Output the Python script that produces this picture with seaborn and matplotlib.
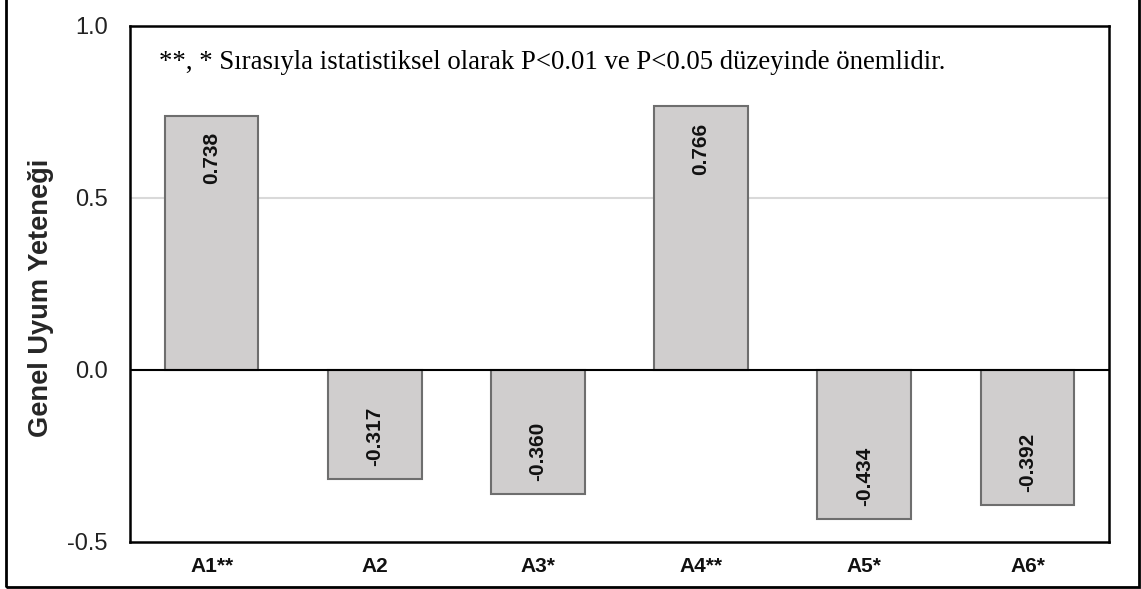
import matplotlib
matplotlib.use("Agg")
import matplotlib.pyplot as plt
import seaborn as sns
import pandas as pd
from matplotlib.patches import Rectangle

# Genel uyum yeteneği değerleri
categories = ["A1**", "A2", "A3*", "A4**", "A5*", "A6*"]
values = [0.738, -0.317, -0.360, 0.766, -0.434, -0.392]
value_labels = ["0.738", "-0.317", "-0.360", "0.766", "-0.434", "-0.392"]
y_ticks = [-0.5, 0.0, 0.5, 1.0]
y_tick_labels = ["-0.5", "0.0", "0.5", "1.0"]
note = "**, * Sırasıyla istatistiksel olarak P<0.01 ve P<0.05 düzeyinde önemlidir."

sns.set_theme(style="white")
plt.rcParams["font.family"] = ["Liberation Sans", "DejaVu Sans"]

df = pd.DataFrame({"hat": categories, "deger": values})

fig = plt.figure(figsize=(11.41, 5.89), dpi=100)
ax = fig.add_axes([0.1139, 0.0798, 0.972 - 0.1139, 0.9559 - 0.0798])

sns.barplot(data=df, x="hat", y="deger", order=categories, color="#D0CECE",
            saturation=1, width=0.575, edgecolor="#6E6E6E", linewidth=1.5,
            ax=ax, zorder=3)

ax.set_ylim(-0.5, 1.0)
ax.set_xlim(-0.5, len(categories) - 0.5)
ax.set_yticks(y_ticks)
ax.set_yticklabels(y_tick_labels, fontsize=17, color="#222222")
ax.set_xticks(range(len(categories)))
ax.set_xticklabels(categories, fontsize=15, fontweight="bold", color="#111111")
ax.tick_params(axis="x", length=0, pad=11)
ax.tick_params(axis="y", length=0, pad=16)

ax.set_xlabel("")
ax.set_ylabel("Genel Uyum Yeteneği", fontsize=19.6, fontweight="bold")
ax.yaxis.set_label_coords(-0.078, 0.473)

# yatay kılavuz çizgisi ve sıfır çizgisi
ax.axhline(0.5, color="#D9D9D9", linewidth=1.5, zorder=1)
ax.axhline(0.0, color="black", linewidth=1.5, zorder=4)

for spine in ax.spines.values():
    spine.set_visible(True)
    spine.set_color("black")
    spine.set_linewidth(1.8)

# çubukların içindeki değer etiketleri
for i, (v, lab) in enumerate(zip(values, value_labels)):
    if v >= 0:
        ax.annotate(lab, xy=(i, v), xytext=(0, -11.5), textcoords="offset points",
                    rotation=90, ha="center", va="top", fontsize=15,
                    fontweight="bold", color="#111111", zorder=5)
    else:
        ax.annotate(lab, xy=(i, v), xytext=(0, 9.5), textcoords="offset points",
                    rotation=90, ha="center", va="bottom", fontsize=15,
                    fontweight="bold", color="#111111", zorder=5)

ax.text(0.03, 0.93, note, transform=ax.transAxes, ha="left", va="center",
        fontsize=19.3, family=["Liberation Serif", "DejaVu Serif"], color="black")

# dış çerçeve
fig.patches.append(Rectangle((6 / 1141, 2 / 589), 1133 / 1141, 1.0,
                             transform=fig.transFigure, fill=False,
                             edgecolor="black", linewidth=2))

fig.savefig("out.png", dpi=100)
